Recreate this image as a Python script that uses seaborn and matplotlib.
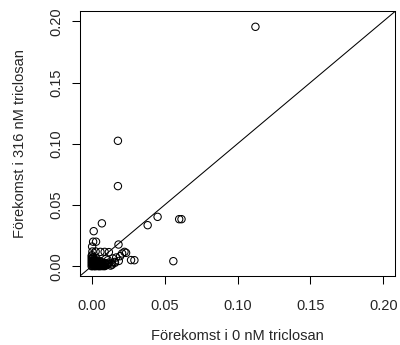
import matplotlib
matplotlib.use("Agg")
import matplotlib.pyplot as plt
import seaborn as sns
import pandas as pd

# Relative abundance of each gene/taxon under the two triclosan conditions
abund_0nM = [
    0.1123, 0.0180, 0.0180, 0.0452, 0.0384, 0.0600, 0.0616, 0.0560, 0.0293,
    0.0070, 0.0014, 0.0010, 0.0030, 0.0184, 0.0209, 0.0225, 0.0236, 0.0270,
    0.0005, 0.0027, 0.0060, 0.0089, 0.0118,
    0.0145, 0.0168, 0.0195, 0.0157, 0.0186, 0.0134, 0.0111, 0.0100,
    0.0000, 0.0005, 0.0010, 0.0015, 0.0020, 0.0025, 0.0030, 0.0035, 0.0040,
    0.0045, 0.0050, 0.0055, 0.0060, 0.0065, 0.0070, 0.0075, 0.0080, 0.0085,
    0.0090, 0.0000, 0.0008, 0.0016, 0.0024, 0.0032, 0.0040, 0.0048, 0.0056,
    0.0064, 0.0072, 0.0000, 0.0004, 0.0012, 0.0020, 0.0028, 0.0036, 0.0044,
    0.0000, 0.0006, 0.0014, 0.0022, 0.0000, 0.0010, 0.0002, 0.0003, 0.0120,
    0.0105, 0.0095, 0.0082, 0.0130,
    0.0012, 0.0026, 0.0042, 0.0058, 0.0074, 0.0088, 0.0102, 0.0018, 0.0034,
    0.0050, 0.0066, 0.0008, 0.0030, 0.0115, 0.0140, 0.0160,
]
abund_316nM = [
    0.1955, 0.1024, 0.0654, 0.0403, 0.0335, 0.0384, 0.0384, 0.0041, 0.0049,
    0.0350, 0.0286, 0.0200, 0.0200, 0.0177, 0.0104, 0.0117, 0.0109, 0.0050,
    0.0120, 0.0120, 0.0117, 0.0117, 0.0115,
    0.0063, 0.0071, 0.0082, 0.0035, 0.0043, 0.0022, 0.0049, 0.0016,
    0.0000, 0.0002, 0.0005, 0.0001, 0.0003, 0.0000, 0.0004, 0.0002, 0.0006,
    0.0001, 0.0003, 0.0000, 0.0005, 0.0002, 0.0004, 0.0001, 0.0003, 0.0002,
    0.0001, 0.0020, 0.0018, 0.0022, 0.0015, 0.0019, 0.0017, 0.0021, 0.0014,
    0.0016, 0.0012, 0.0040, 0.0038, 0.0042, 0.0035, 0.0039, 0.0033, 0.0030,
    0.0060, 0.0058, 0.0055, 0.0050, 0.0080, 0.0075, 0.0090, 0.0160, 0.0030,
    0.0010, 0.0025, 0.0008, 0.0005,
    0.0028, 0.0026, 0.0027, 0.0025, 0.0024, 0.0020, 0.0012, 0.0048, 0.0046,
    0.0045, 0.0036, 0.0068, 0.0065, 0.0020, 0.0012, 0.0028,
]

xlabel_text = "Förekomst i 0 nM triclosan"
ylabel_text = "Förekomst i 316 nM triclosan"
tick_values = [0.00, 0.05, 0.10, 0.15, 0.20]
tick_labels = ["0.00", "0.05", "0.10", "0.15", "0.20"]

df = pd.DataFrame({"x": abund_0nM, "y": abund_316nM})

sns.set_style("white")
plt.rcParams["font.family"] = ["Liberation Sans", "DejaVu Sans"]

fig = plt.figure(figsize=(4.0, 3.45), dpi=100)
ax = fig.add_axes([0.2, 0.2, 0.7875, 0.7667])

sns.scatterplot(data=df, x="x", y="y", ax=ax, marker="o", s=28,
                facecolors="none", edgecolor="black", linewidth=0.75,
                legend=False, zorder=3)
ax.axline((0, 0), slope=1, color="black", linewidth=0.75, zorder=2)

ax.set_xlim(-0.008, 0.208)
ax.set_ylim(-0.008, 0.208)
ax.set_xticks(tick_values)
ax.set_xticklabels(tick_labels)
ax.set_yticks(tick_values)
ax.set_yticklabels(tick_labels, rotation=90, va="center")
ax.tick_params(axis="both", direction="out", length=5.8, width=0.75,
               color="black", labelsize=10.5, bottom=True, left=True)
ax.tick_params(axis="x", pad=10.5)
ax.tick_params(axis="y", pad=6.5)
for sp in ax.spines.values():
    sp.set_color("black")
    sp.set_linewidth(0.75)
ax.set_xlabel(xlabel_text, fontsize=10.5, labelpad=12)
ax.set_ylabel(ylabel_text, fontsize=10.5, labelpad=16)

fig.savefig("out.png", dpi=100, facecolor="white")
